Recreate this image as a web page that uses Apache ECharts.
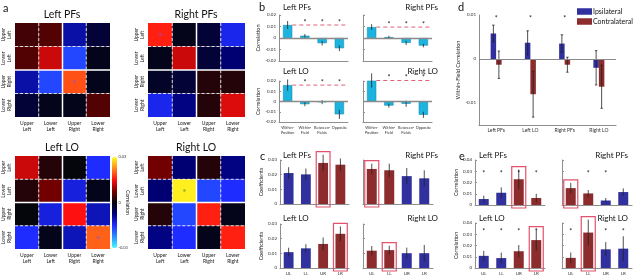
<!DOCTYPE html>
<html>
<head>
<meta charset="utf-8">
<script src="https://cdn.jsdelivr.net/npm/echarts@6/dist/echarts.min.js"></script>
<style>
html, body {margin: 0; padding: 0; background: #fff;}
#main {width: 637px; height: 276px;}
</style>
</head>
<body>
<div id="main"></div>
<script>
//***************数据*************************
var quadrants = ['Upper\nLeft', 'Lower\nLeft', 'Upper\nRight', 'Lower\nRight'];
var quadShort = ['UL', 'LL', 'UR', 'LR'];

// a: correlation matrices, rows/cols = UL, LL, UR, LR
var matLeftPFs = [
    [0.004, 0.005, -0.010, -0.003],
    [0.005, 0.012, -0.017, -0.001],
    [-0.010, -0.017, 0.019, -0.001],
    [-0.003, -0.001, -0.001, 0.005]
];
var matRightPFs = [
    [0.016, -0.001, -0.003, -0.014],
    [-0.001, 0.012, -0.003, -0.007],
    [-0.002, -0.003, 0.002, 0.002],
    [-0.014, -0.008, 0.002, 0.013]
];
var matLeftLO = [
    [0.012, 0.002, 0.000, -0.015],
    [0.002, 0.007, -0.013, -0.001],
    [0.000, -0.013, 0.015, -0.011],
    [-0.015, -0.001, -0.011, 0.020]
];
var matRightLO = [
    [0.007, -0.007, 0.002, -0.008],
    [-0.007, 0.029, -0.017, -0.015],
    [0.002, -0.017, 0.016, -0.001],
    [-0.008, -0.015, -0.001, 0.016]
];
// significant cell (index on diagonal)
var sigLeftPFs = 2, sigRightPFs = 0, sigLeftLO = 3, sigRightLO = 1;

// b
var bCats = ['Within-\nPosition', 'Within-\nField', 'Between-\nFields', 'Opposite'];
var bLeftPFs = [0.0113, 0.0020, -0.0045, -0.0089];
var bLeftPFsErr = [0.0035, 0.0015, 0.0020, 0.0025];
var bRightPFs = [0.0095, 0.0008, -0.0043, -0.0066];
var bRightPFsErr = [0.0025, 0.0012, 0.0018, 0.0015];
var bLeftLO = [0.0160, -0.0026, -0.0006, -0.0125];
var bLeftLOErr = [0.0055, 0.0020, 0.0020, 0.0045];
var bRightLO = [0.0205, -0.0040, -0.0022, -0.0130];
var bRightLOErr = [0.0070, 0.0020, 0.0030, 0.0030];

// c
var cLeftPFs = [0.0211, 0.0202, 0.0280, 0.0268];
var cLeftPFsErr = [0.0040, 0.0040, 0.0056, 0.0042];
var cRightPFs = [0.0239, 0.0230, 0.0190, 0.0175];
var cRightPFsErr = [0.0036, 0.0045, 0.0055, 0.0055];
var cLeftLO = [0.0108, 0.0134, 0.0164, 0.0233];
var cLeftLOErr = [0.0030, 0.0028, 0.0044, 0.0051];
var cRightLO = [0.0118, 0.0122, 0.0101, 0.0101];
var cRightLOErr = [0.0032, 0.0030, 0.0038, 0.0056];

// d
var dCats = ['Left PFs', 'Left LO', 'Right PFs', 'Right LO'];
var dIpsi = [0.0058, 0.0037, 0.0035, -0.0020];
var dIpsiErr = [0.0019, 0.0027, 0.0020, 0.0039];
var dContra = [-0.0013, -0.0080, -0.0013, -0.0063];
var dContraErr = [0.0031, 0.0052, 0.0017, 0.0049];
var dStar = [1, 1, 1, 0];
var dStarLevel = 0.0092;

// e
var eLeftPFs = [0.0053, 0.0109, 0.0229, 0.0062];
var eLeftPFsErr = [0.0030, 0.0047, 0.0086, 0.0038];
var eRightPFs = [0.0150, 0.0103, 0.0040, 0.0115];
var eRightPFsErr = [0.0047, 0.0030, 0.0022, 0.0033];
var eLeftLO = [0.0108, 0.0088, 0.0149, 0.0248];
var eLeftLOErr = [0.0044, 0.0049, 0.0055, 0.0094];
var eRightLO = [0.0090, 0.0315, 0.0166, 0.0172];
var eRightLOErr = [0.0048, 0.0115, 0.0064, 0.0110];
var eStarLeftPFs = [1, 1, 1, 1], eStarRightPFs = [0, 1, 1, 0];
var eStarLeftLO = [1, 1, 1, 1], eStarRightLO = [1, 0, 1, 1];
var eStarTop = 0.028, eStarBottom = 0.032;

// highlighted quadrant (boxes in c and e)
var boxLeftPFs = 2, boxRightPFs = 0, boxLeftLO = 3, boxRightLO = 1;

//***************样式*************************
var FONT = 'Lato, "Open Sans", sans-serif';
var AX = '#8f8f8f';
var CYAN = '#1cb4de';
var BLUE = '#30309e';
var RED = '#8c2c2c';
var BOX = '#e3526c';
var heatColors = ['#40ffff', '#2d8cff', '#1f2cff', '#00007a', '#05050c', '#7a0000', '#ff1010', '#ff8a1c', '#ffff20'];

var grids = [], xAxes = [], yAxes = [], series = [], graphics = [], heatSeries = [];

function fmtTick(v) {
    var s = String(+v.toFixed(3));
    return s === '-0' ? '0' : s;
}

function addGrid(left, top, width, height) {
    grids.push({left: left, top: top, width: width, height: height, containLabel: false});
    return grids.length - 1;
}

function addText(text, x, y, size, align) {
    graphics.push({
        type: 'text', x: x, y: y, silent: true,
        style: {text: text, font: size + 'px ' + FONT, fill: '#111', align: align || 'left', verticalAlign: 'middle'}
    });
}

//***************a: heatmaps*************************
function heatPanel(left, top, width, height, mat, sig, starColor) {
    var gi = addGrid(left, top, width, height);
    var lab = {fontFamily: FONT, fontSize: 5, lineHeight: 6, color: '#222', interval: 0, margin: 3};
    xAxes.push({gridIndex: gi, type: 'category', data: quadrants, axisLine: {show: false}, axisTick: {show: false},
        splitLine: {show: false}, axisLabel: lab});
    yAxes.push({gridIndex: gi, type: 'category', data: quadrants, inverse: true, axisLine: {show: false},
        axisTick: {show: false}, splitLine: {show: false}, axisLabel: Object.assign({rotate: 90}, lab)});
    var cells = [];
    mat.forEach(function (row, r) {
        row.forEach(function (v, c) { cells.push([c, r, v]); });
    });
    function edge(x1, y1, x2, y2, mid) {
        return {
            type: 'line', z2: 10, shape: {x1: x1, y1: y1, x2: x2, y2: y2},
            style: mid ? {stroke: '#ffffff', lineWidth: 1.5} : {stroke: 'rgba(255,255,255,0.8)', lineWidth: 1, lineDash: [3, 2]}
        };
    }
    series.push({
        type: 'custom', xAxisIndex: xAxes.length - 1, yAxisIndex: yAxes.length - 1,
        data: cells, encode: {x: 0, y: 1}, silent: true,
        renderItem: function (params, api) {
            var c = api.value(0), r = api.value(1);
            var p = api.coord([c, r]);
            var s = api.size([1, 1]);
            var x0 = p[0] - s[0] / 2, y0 = p[1] - s[1] / 2;
            var kids = [{type: 'rect', shape: {x: x0, y: y0, width: s[0], height: s[1]}, style: {fill: api.visual('color')}}];
            if (c < 3) kids.push(edge(x0 + s[0], y0, x0 + s[0], y0 + s[1], c === 1));
            if (r < 3) kids.push(edge(x0, y0 + s[1], x0 + s[0], y0 + s[1], r === 1));
            if (c === sig && r === sig) {
                kids.push({type: 'text', z2: 20, style: {text: '*', x: p[0], y: p[1] + 2, font: '10px ' + FONT,
                    fill: starColor, align: 'center', verticalAlign: 'middle'}});
            }
            return {type: 'group', children: kids};
        }
    });
    heatSeries.push(series.length - 1);
}

heatPanel(14, 23, 96, 94, matLeftPFs, sigLeftPFs, '#8a55d6');
heatPanel(148, 23, 97, 94, matRightPFs, sigRightPFs, '#8a55d6');
heatPanel(15, 156, 95, 93, matLeftLO, sigLeftLO, '#8a55d6');
heatPanel(148, 156, 97, 93, matRightLO, sigRightLO, '#5f9a3a');

// colorbar axis
var cbGrid = addGrid(112, 157, 5, 91);
xAxes.push({gridIndex: cbGrid, type: 'value', show: false});
yAxes.push({gridIndex: cbGrid, type: 'value', position: 'right', min: -0.03, max: 0.03, interval: 0.03,
    axisLine: {show: false}, axisTick: {show: false}, splitLine: {show: false},
    axisLabel: {fontFamily: FONT, fontSize: 4, color: '#333', margin: 1.5, formatter: fmtTick},
    name: 'Correlation', nameLocation: 'middle', nameRotate: -90, nameGap: 8, nameMoveOverlap: false,
    nameTextStyle: {fontFamily: FONT, fontSize: 5, color: '#222'}});

//***************bar panels*************************
function errorSeries(xi, yi, vals, errs, offset, caps) {
    return {
        type: 'custom', xAxisIndex: xi, yAxisIndex: yi, silent: true, z: 4,
        data: vals.map(function (v, i) { return [i, v, errs[i]]; }),
        encode: {x: 0, y: 1},
        renderItem: function (params, api) {
            var i = api.value(0), v = api.value(1), e = api.value(2);
            var hi = api.coord([i, v + e]), lo = api.coord([i, v - e]);
            var x = hi[0] + offset;
            var kids = [{type: 'line', shape: {x1: x, y1: hi[1], x2: x, y2: lo[1]}, style: {stroke: '#222', lineWidth: 0.8}}];
            if (caps) {
                kids.push({type: 'line', shape: {x1: x - 1.2, y1: hi[1], x2: x + 1.2, y2: hi[1]}, style: {stroke: '#222', lineWidth: 0.8}});
                kids.push({type: 'line', shape: {x1: x - 1.2, y1: lo[1], x2: x + 1.2, y2: lo[1]}, style: {stroke: '#222', lineWidth: 0.8}});
            }
            return {type: 'group', children: kids};
        }
    };
}

function starSeries(xi, yi, flags, level, offsetY) {
    var pts = [];
    flags.forEach(function (f, i) { if (f) pts.push([i, level]); });
    return {
        type: 'custom', xAxisIndex: xi, yAxisIndex: yi, silent: true, z: 4, data: pts, encode: {x: 0, y: 1},
        renderItem: function (params, api) {
            var p = api.coord([api.value(0), api.value(1)]);
            return {type: 'text', style: {text: '*', x: p[0], y: p[1] + offsetY, font: '7px ' + FONT, fill: '#222',
                align: 'center', verticalAlign: 'middle'}};
        }
    };
}

function boxSeries(xi, yi, vals, errs, idx) {
    return {
        type: 'custom', xAxisIndex: xi, yAxisIndex: yi, silent: true, z: 5,
        data: [[idx, vals[idx] + errs[idx]]], encode: {x: 0, y: 1},
        renderItem: function (params, api) {
            var top = api.coord([api.value(0), api.value(1)]);
            var base = api.coord([api.value(0), 0]);
            var w = api.size([1, 0])[0] * 0.8;
            return {type: 'rect', shape: {x: top[0] - w / 2, y: top[1] - 3, width: w, height: base[1] - top[1] + 6},
                style: {fill: 'none', stroke: BOX, lineWidth: 1.2}};
        }
    };
}

function barPanel(cfg) {
    var gi = addGrid(cfg.left, cfg.top, cfg.width, cfg.height);
    xAxes.push({gridIndex: gi, type: 'category', data: cfg.cats,
        axisLine: {onZero: false, lineStyle: {color: AX, width: 1}}, axisTick: {show: false},
        axisLabel: {show: !!cfg.xLabels, interval: 0, margin: 3, fontFamily: FONT, fontSize: cfg.xSize || 4.5, lineHeight: 5, color: '#333'}});
    yAxes.push({gridIndex: gi, type: 'value', min: cfg.min, max: cfg.max, interval: cfg.interval,
        splitLine: {show: false}, axisLine: {show: true, lineStyle: {color: AX, width: 1}},
        axisTick: {show: cfg.ticks !== false, inside: true, length: 2, lineStyle: {color: AX}},
        axisLabel: {show: !!cfg.yLabels, margin: 3, fontFamily: FONT, fontSize: 4.5, color: '#333', formatter: cfg.fmt || fmtTick},
        name: cfg.yLabels ? cfg.yName : '', nameLocation: 'middle', nameGap: cfg.nameGap || 12,
        nameTextStyle: {fontFamily: FONT, fontSize: 5.5, color: '#222'}});
    return [xAxes.length - 1, yAxes.length - 1];
}

// b
function bPanel(left, top, height, vals, errs, first, bottom) {
    var ax = barPanel({left: left, top: top, width: 69, height: height, cats: bCats, min: -0.02, max: 0.02, interval: 0.01,
        yLabels: first, xLabels: bottom, xSize: 3.8, yName: 'Correlation', nameGap: 13});
    series.push({
        type: 'bar', xAxisIndex: ax[0], yAxisIndex: ax[1], barWidth: '54%', data: vals, silent: true,
        itemStyle: {color: CYAN, borderColor: '#1490b6', borderWidth: 0.6},
        markLine: {silent: true, symbol: 'none', label: {show: false}, lineStyle: {color: '#8a8a8a', width: 1.3, type: 'solid'},
            data: [{yAxis: 0}]}
    });
    series.push(errorSeries(ax[0], ax[1], vals, errs, 0, false));
    // dashed reference at within-position level
    series.push({
        type: 'custom', xAxisIndex: ax[0], yAxisIndex: ax[1], silent: true, z: 4,
        data: [[0, vals[0]]], encode: {x: 0, y: 1},
        renderItem: function (params, api) {
            var p = api.coord([0, api.value(1)]);
            var half = api.size([1, 0])[0] * 0.27;
            var right = params.coordSys.x + params.coordSys.width;
            return {type: 'line', shape: {x1: p[0] + half, y1: p[1], x2: right, y2: p[1]},
                style: {stroke: '#e0607a', lineWidth: 1, lineDash: [4, 3]}};
        }
    });
    series.push(starSeries(ax[0], ax[1], [0, 1, 1, 1], vals[0], -2.5));
}
bPanel(279, 15, 46, bLeftPFs, bLeftPFsErr, true, false);
bPanel(363, 15, 46, bRightPFs, bRightPFsErr, false, false);
bPanel(279, 81, 41, bLeftLO, bLeftLOErr, true, true);
bPanel(363, 81, 41, bRightLO, bRightLOErr, false, true);

// c and e: ipsilateral quadrant = blue, contralateral = red
function quadPanel(left, top, width, height, hemi, vals, errs, boxIdx, max, first, bottom, yName, stars, starLevel) {
    var ax = barPanel({left: left, top: top, width: width, height: height, cats: quadShort, min: 0, max: max, interval: 0.01,
        yLabels: first, xLabels: bottom, yName: yName, nameGap: 13});
    series.push({
        type: 'bar', xAxisIndex: ax[0], yAxisIndex: ax[1], barWidth: '57%', silent: true,
        data: vals.map(function (v, i) {
            return {value: v, itemStyle: {color: quadShort[i].charAt(1) === hemi ? BLUE : RED}};
        })
    });
    series.push(errorSeries(ax[0], ax[1], vals, errs, 0, false));
    series.push(boxSeries(ax[0], ax[1], vals, errs, boxIdx));
    if (stars) series.push(starSeries(ax[0], ax[1], stars, starLevel, 0));
}
quadPanel(280, 160, 69, 44, 'L', cLeftPFs, cLeftPFsErr, boxLeftPFs, 0.03, true, false, 'Coefficients');
quadPanel(363, 160, 70, 44, 'R', cRightPFs, cRightPFsErr, boxRightPFs, 0.03, false, false, 'Coefficients');
quadPanel(280, 224, 69, 44, 'L', cLeftLO, cLeftLOErr, boxLeftLO, 0.03, true, true, 'Coefficients');
quadPanel(363, 224, 70, 44, 'R', cRightLO, cRightLOErr, boxRightLO, 0.03, false, true, 'Coefficients');

quadPanel(475, 160, 70, 45, 'L', eLeftPFs, eLeftPFsErr, boxLeftPFs, 0.04, true, false, 'Correlation', eStarLeftPFs, eStarTop);
quadPanel(562, 160, 70, 45, 'R', eRightPFs, eRightPFsErr, boxRightPFs, 0.04, false, false, 'Correlation', eStarRightPFs, eStarTop);
quadPanel(475, 223, 70, 45, 'L', eLeftLO, eLeftLOErr, boxLeftLO, 0.04, true, true, 'Correlation', eStarLeftLO, eStarBottom);
quadPanel(562, 223, 70, 45, 'R', eRightLO, eRightLOErr, boxRightLO, 0.04, false, true, 'Correlation', eStarRightLO, eStarBottom);

// d
var dAx = barPanel({left: 479, top: 15, width: 137, height: 110, cats: dCats, min: -0.015, max: 0.01, interval: 0.005,
    yLabels: true, xLabels: true, xSize: 5, yName: 'Within-Field Correlation', nameGap: 14, ticks: false,
    fmt: function (v) { var k = Math.round(v * 1000); return k % 10 === 0 ? fmtTick(k / 1000) : ''; }});
series.push({
    name: 'Ipsilateral', type: 'bar', xAxisIndex: dAx[0], yAxisIndex: dAx[1], barWidth: 5.5, barGap: '0%', silent: true,
    data: dIpsi, itemStyle: {color: BLUE},
    markLine: {silent: true, symbol: 'none', label: {show: false}, lineStyle: {color: '#8a8a8a', width: 1.2, type: 'solid'},
        data: [{yAxis: 0}]}
});
series.push({
    name: 'Contralateral', type: 'bar', xAxisIndex: dAx[0], yAxisIndex: dAx[1], barWidth: 5.5, barGap: '0%', silent: true,
    data: dContra, itemStyle: {color: RED}
});
series.push(errorSeries(dAx[0], dAx[1], dIpsi, dIpsiErr, -2.75, true));
series.push(errorSeries(dAx[0], dAx[1], dContra, dContraErr, 2.75, true));
series.push(starSeries(dAx[0], dAx[1], dStar, dStarLevel, 0));

//***************文字*************************
addText('a', 3, 8, 11);
addText('b', 259, 7, 11);
addText('c', 260, 156, 11);
addText('d', 458, 7, 11);
addText('e', 459, 156, 11);

addText('Left PFs', 62, 15, 10.5, 'center');
addText('Right PFs', 196, 15, 10.5, 'center');
addText('Left LO', 62, 148, 10.5, 'center');
addText('Right LO', 196, 148, 10.5, 'center');

[[283, 438, 7, 71], [283, 438, 155, 218], [479, 628, 155, 218]].forEach(function (t) {
    addText('Left PFs', t[0], t[2], 8);
    addText('Right PFs', t[1], t[2], 8, 'right');
    addText('Left LO', t[0], t[3], 8);
    addText('Right LO', t[1], t[3], 8, 'right');
});

//***************图表*************************
var chart = echarts.init(document.getElementById('main'));
chart.setOption({
    animation: false,
    textStyle: {fontFamily: FONT},
    grid: grids,
    xAxis: xAxes,
    yAxis: yAxes,
    visualMap: {
        type: 'continuous', min: -0.03, max: 0.03, seriesIndex: heatSeries, dimension: 2,
        inRange: {color: heatColors}, left: 112, top: 157, itemWidth: 5, itemHeight: 91, padding: 0,
        calculable: false, hoverLink: false, text: null, show: true
    },
    legend: {
        data: ['Ipsilateral', 'Contralateral'], orient: 'vertical', left: 577, top: 8, padding: 0,
        itemWidth: 15, itemHeight: 6.5, itemGap: 3, icon: 'rect', selectedMode: false,
        textStyle: {fontFamily: FONT, fontSize: 7, color: '#111', padding: [0, 0, 0, -4]}
    },
    graphic: graphics,
    series: series
});
</script>
</body>
</html>
